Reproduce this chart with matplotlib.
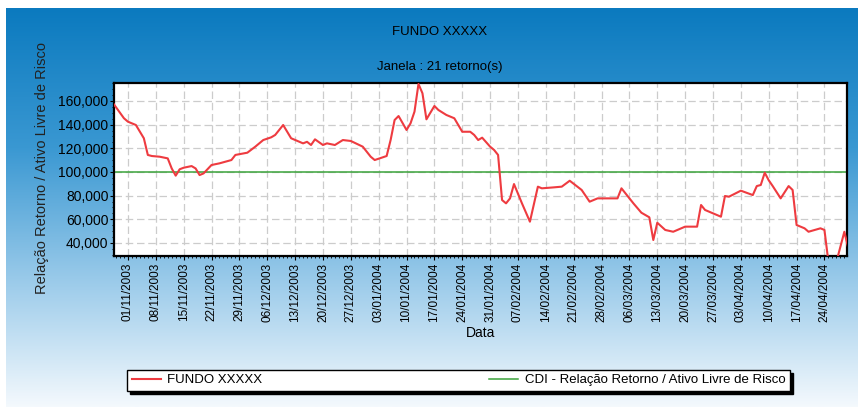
from matplotlib import pyplot as plt
from matplotlib import dates as mdates
from matplotlib.colors import LinearSegmentedColormap
from matplotlib import font_manager
import numpy as np
import pandas as pd

# ---- dados ----
titulo = 'FUNDO XXXXX'
subtitulo = 'Janela : 21 retorno(s)'
nome_fundo = 'FUNDO XXXXX'
nome_cdi = 'CDI - Relação Retorno / Ativo Livre de Risco'
rotulo_y = 'Relação Retorno / Ativo Livre de Risco'
rotulo_x = 'Data'

datas = [
    '2003-10-28', '2003-10-31', '2003-11-01', '2003-11-03', '2003-11-05', '2003-11-06',
    '2003-11-07', '2003-11-09', '2003-11-11', '2003-11-12', '2003-11-13', '2003-11-14',
    '2003-11-15', '2003-11-17', '2003-11-18', '2003-11-19', '2003-11-20', '2003-11-22',
    '2003-11-24', '2003-11-27', '2003-11-28', '2003-12-01', '2003-12-03', '2003-12-05',
    '2003-12-07', '2003-12-08', '2003-12-10', '2003-12-12', '2003-12-15', '2003-12-16',
    '2003-12-17', '2003-12-18', '2003-12-20', '2003-12-21', '2003-12-23', '2003-12-25',
    '2003-12-27', '2003-12-30', '2004-01-01', '2004-01-02', '2004-01-05', '2004-01-06',
    '2004-01-07', '2004-01-08', '2004-01-10', '2004-01-11', '2004-01-12', '2004-01-13',
    '2004-01-14', '2004-01-15', '2004-01-17', '2004-01-18', '2004-01-20', '2004-01-22',
    '2004-01-24', '2004-01-26', '2004-01-27', '2004-01-28', '2004-01-29', '2004-01-31',
    '2004-02-01', '2004-02-02', '2004-02-03', '2004-02-04', '2004-02-05', '2004-02-06',
    '2004-02-08', '2004-02-10', '2004-02-12', '2004-02-13', '2004-02-16', '2004-02-18',
    '2004-02-20', '2004-02-23', '2004-02-25', '2004-02-27', '2004-02-29', '2004-03-03',
    '2004-03-04', '2004-03-07', '2004-03-09', '2004-03-11', '2004-03-12', '2004-03-13',
    '2004-03-15', '2004-03-17', '2004-03-20', '2004-03-23', '2004-03-24', '2004-03-25',
    '2004-03-29', '2004-03-30', '2004-03-31', '2004-04-03', '2004-04-06', '2004-04-07',
    '2004-04-08', '2004-04-09', '2004-04-10', '2004-04-11', '2004-04-13', '2004-04-15',
    '2004-04-16', '2004-04-17', '2004-04-19', '2004-04-20', '2004-04-23', '2004-04-24',
    '2004-04-25', '2004-04-27', '2004-04-29', '2004-04-30',
]
fundo = [
    159.4, 145.4, 142.5, 139.7, 128.5, 114.4,
    113.5, 112.9, 111.5, 103.0, 96.9, 102.3,
    103.6, 105.0, 103.0, 97.4, 98.8, 105.9,
    107.3, 110.1, 114.4, 116.3, 121.4, 127.0,
    129.3, 131.3, 139.7, 128.5, 124.2, 125.5,
    122.8, 127.6, 122.8, 124.2, 122.8, 127.0,
    126.2, 121.4, 112.9, 110.1, 113.5, 127.0,
    143.9, 147.3, 135.5, 141.1, 151.0, 174.4,
    166.5, 144.5, 155.8, 152.4, 148.2, 145.4,
    134.0, 134.0, 131.3, 127.0, 129.0, 121.4,
    118.6, 114.4, 76.3, 73.5, 77.7, 89.8,
    73.5, 58.0, 87.6, 86.2, 87.0, 87.6,
    92.6, 84.8, 74.9, 77.7, 77.7, 77.7,
    86.2, 73.5, 65.6, 61.7, 42.5, 57.1,
    51.0, 49.5, 53.8, 53.8, 72.1, 67.9,
    62.2, 79.7, 79.1, 84.2, 80.5, 88.1,
    89.0, 99.4, 93.0, 88.1, 77.7, 88.1,
    84.8, 55.2, 52.4, 49.5, 52.4, 51.0,
    24.0, 24.0, 49.5, 35.5,
]
cdi_nivel = 100.0
yticks = [40, 60, 80, 100, 120, 140, 160]
tick_ini = '2003-11-01'
tick_fim = '2004-04-24'

# ---- fontes ----
nomes = {f.name for f in font_manager.fontManager.ttflist}
fonte = 'Liberation Sans Narrow' if 'Liberation Sans Narrow' in nomes else 'Liberation Sans'
plt.rcParams['font.family'] = [fonte, 'DejaVu Sans']

x = pd.to_datetime(datas)

## Figura
fig = plt.figure(figsize=(8.58, 4.07), dpi=100)
fig.patch.set_facecolor('white')

# fundo em degradê
bg = fig.add_axes([6 / 858, 0, 1 - 6 / 858, 1 - 8 / 407], zorder=-10)
cmap = LinearSegmentedColormap.from_list('fundo', [
    (0.00, '#0b7abf'), (0.35, '#3a98d2'), (0.70, '#9fcdeb'), (1.00, '#f4f9fd')])
bg.imshow(np.linspace(0, 1, 256).reshape(-1, 1), aspect='auto', cmap=cmap,
          extent=[0, 1, 0, 1], origin='upper')
bg.set_axis_off()

ax = fig.add_axes([114 / 858, 1 - 256 / 407, 733 / 858, 173 / 407])
ax.set_facecolor('white')

# Plots
linha_f, = ax.plot(x, fundo, color='#ee3b40', linewidth=1.5, zorder=3)
linha_c = ax.axhline(cdi_nivel, color='#3aa33a', linewidth=1.1, zorder=2)

# Eixos
ax.set_xlim(pd.Timestamp('2003-10-28 12:00'), pd.Timestamp('2004-04-29 16:00'))
ax.set_ylim(29, 175.2)
ax.set_xticks(pd.date_range(tick_ini, tick_fim, freq='7D'))
ax.xaxis.set_major_formatter(mdates.DateFormatter('%d/%m/%Y'))
ax.xaxis.set_minor_locator(mdates.DayLocator())
ax.set_yticks(yticks)
ax.set_yticklabels([f'{v:.3f}'.replace('.', ',') for v in yticks])
ax.yaxis.set_minor_locator(plt.MultipleLocator(5))
ax.tick_params(axis='x', labelrotation=90, labelsize=8.5, length=3, pad=2)
ax.tick_params(axis='y', labelsize=10, length=3, pad=1)
ax.tick_params(which='minor', length=1.5)
for s in ax.spines.values():
    s.set_linewidth(1.6)
ax.grid(True, color='#cccccc', linestyle=(0, (6, 3)), linewidth=0.9, zorder=1)

# Label
ax.set_xlabel(rotulo_x, fontsize=10, labelpad=3)
fig.text(42 / 858, 1 - 168 / 407, rotulo_y, rotation=90, fontsize=10.5,
         ha='center', va='center', color='#222222')
fig.text(440 / 858, 1 - 32 / 407, titulo, fontsize=9.5, ha='center', va='center')
fig.text(440 / 858, 1 - 67 / 407, subtitulo, fontsize=9.5, ha='center', va='center')

leg = fig.legend([linha_f, linha_c], [nome_fundo, nome_cdi], ncol=2, mode='expand',
                 loc='lower left', borderaxespad=0,
                 bbox_to_anchor=(127 / 858, 1 - 391 / 407, 663 / 858, 24 / 407),
                 fancybox=False, framealpha=1, edgecolor='black', fontsize=9.5,
                 handlelength=2.2, handletextpad=0.5, borderpad=0.35,
                 shadow={'color': 'black', 'alpha': 1, 'ox': 2.5, 'oy': -2.5})
leg.get_frame().set_linewidth(1.0)

fig.savefig('out.png', dpi=100)
